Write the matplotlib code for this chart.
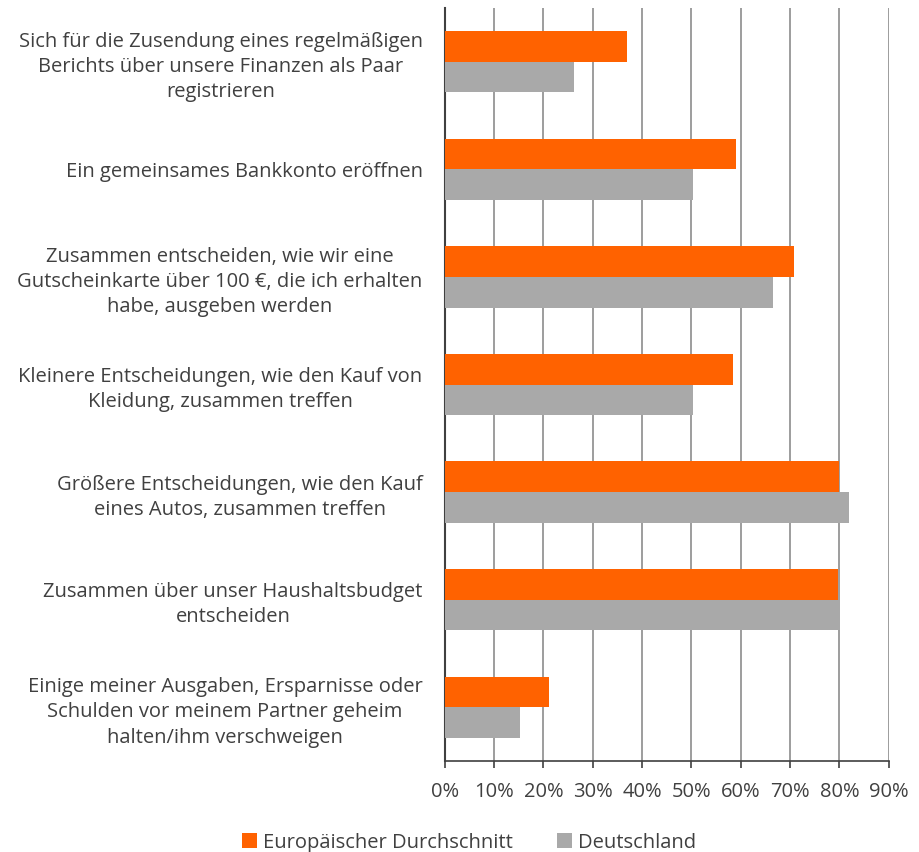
import numpy as np
import matplotlib.pyplot as plt
from matplotlib.ticker import PercentFormatter

# categories (top to bottom) and values in percent
categories = [
    'Sich für die Zusendung eines regelmäßigen\nBerichts über unsere Finanzen als Paar\nregistrieren',
    'Ein gemeinsames Bankkonto eröffnen',
    'Zusammen entscheiden, wie wir eine\nGutscheinkarte über 100 €, die ich erhalten\nhabe, ausgeben werden',
    'Kleinere Entscheidungen, wie den Kauf von\nKleidung, zusammen treffen',
    'Größere Entscheidungen, wie den Kauf\neines Autos, zusammen treffen',
    'Zusammen über unser Haushaltsbudget\nentscheiden',
    'Einige meiner Ausgaben, Ersparnisse oder\nSchulden vor meinem Partner geheim\nhalten/ihm verschweigen',
]
europe = [36.9, 59.0, 70.7, 58.5, 80.0, 79.7, 21.1]
germany = [26.2, 50.3, 66.6, 50.4, 82.0, 80.1, 15.3]
series_names = ['Europäischer Durchschnitt', 'Deutschland']
xticks = np.arange(0, 91, 10)

plt.rcParams['font.family'] = ['Open Sans', 'DejaVu Sans']
text_col = '#404040'

fig = plt.figure(figsize=(9.2, 8.52), dpi=100)
ax = fig.add_axes([0.4834, 0.1068, 0.4826, 0.8838])

y = np.arange(len(categories))
h = 0.285
ax.barh(y - h / 2, europe, height=h, color='#FF6200', label=series_names[0], zorder=3)
ax.barh(y + h / 2, germany, height=h, color='#A9A9A9', label=series_names[1], zorder=3)

ax.set_ylim(len(categories) - 0.5, -0.5)
ax.set_xlim(0, 90)
ax.set_xticks(xticks)
ax.xaxis.set_major_formatter(PercentFormatter(decimals=0))
ax.grid(axis='x', color='#8c8c8c', linewidth=1.2, zorder=0)

ax.set_yticks(y)
ax.set_yticklabels(categories)
for t in ax.get_yticklabels():
    t.set_multialignment('center')
    t.set_linespacing(1.35)
ax.tick_params(axis='y', length=0, pad=16, labelsize=14.5, labelcolor=text_col)
ax.tick_params(axis='x', length=5, width=1.2, color='#404040', pad=10, labelsize=14.5, labelcolor=text_col)

for s in ['top', 'right']:
    ax.spines[s].set_visible(False)
ax.spines['left'].set_color('#404040')
ax.spines['left'].set_linewidth(1.5)
ax.spines['bottom'].set_color('#404040')
ax.spines['bottom'].set_linewidth(1.2)

fig.legend(loc='lower center', bbox_to_anchor=(0.51, -0.022), ncol=2, frameon=False,
           fontsize=14.5, handlelength=0.75, handleheight=0.75, columnspacing=2.2,
           handletextpad=0.3, labelcolor=text_col)

fig.savefig('out.png', dpi=100)
